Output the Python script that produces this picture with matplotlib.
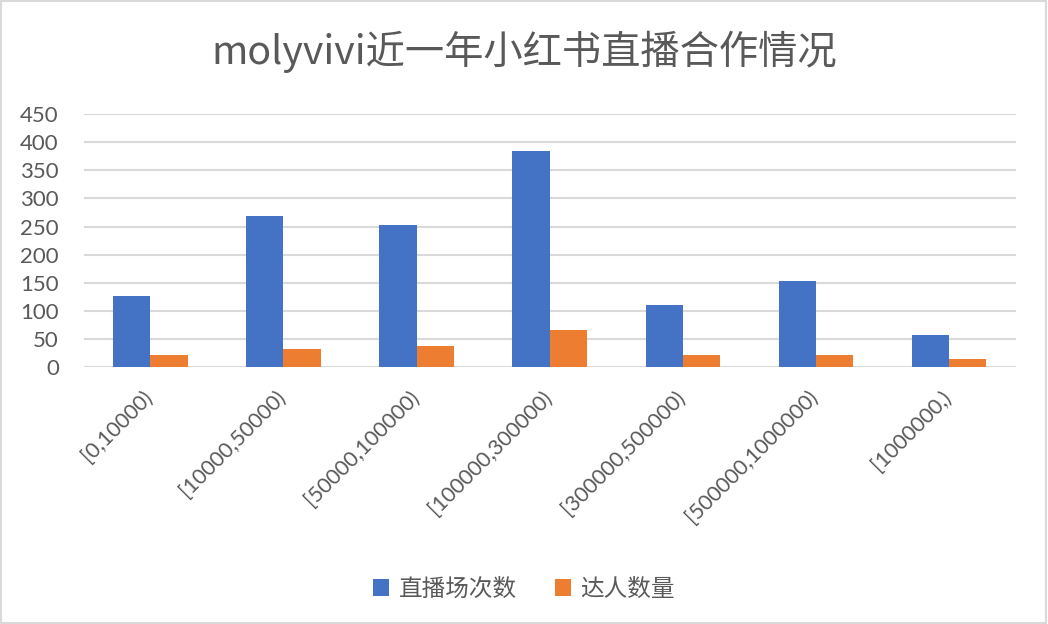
import numpy as np
import matplotlib.pyplot as plt
from matplotlib.patches import Rectangle
from matplotlib.transforms import ScaledTranslation

categories = ["[0,10000)", "[10000,50000)", "[50000,100000)", "[100000,300000)",
              "[300000,500000)", "[500000,1000000)", "[1000000,)"]
live_counts = [127, 268, 252, 384, 111, 153, 57]
talent_counts = [21, 33, 38, 67, 21, 21, 15]
yticks = [0, 50, 100, 150, 200, 250, 300, 350, 400, 450]

blue = "#4472C4"
orange = "#ED7D31"
gray = "#595959"
cjk = ["Noto Sans CJK SC", "DejaVu Sans"]


def main():
    fig = plt.figure(figsize=(10.48, 6.24), dpi=100)
    ax = fig.add_axes([0.080, 0.4114, 0.889, 0.4059])

    x = np.arange(len(categories))
    w = 0.28
    ax.bar(x - w / 2, live_counts, w, color=blue, label="直播场次数", zorder=3)
    ax.bar(x + w / 2, talent_counts, w, color=orange, label="达人数量", zorder=3)

    ax.set_xlim(-0.5, len(categories) - 0.5)
    ax.set_ylim(0, 450)
    ax.set_yticks(yticks)
    ax.yaxis.grid(True, color="#d9d9d9", linewidth=1.5, zorder=0)
    ax.set_axisbelow(True)
    for s in ax.spines.values():
        s.set_visible(False)
    ax.tick_params(axis="both", length=0, colors=gray)
    ax.tick_params(axis="y", pad=18, labelsize=16)
    for lab in ax.get_yticklabels():
        lab.set_family("Lato")

    ax.set_xticks(x)
    ax.set_xticklabels(categories, rotation=45, ha="right", rotation_mode="anchor",
                       family="Lato", fontsize=15.5, color=gray)
    ax.tick_params(axis="x", pad=14)
    shift = ScaledTranslation(-8 / 100, 0, fig.dpi_scale_trans)
    for lab in ax.get_xticklabels():
        lab.set_transform(lab.get_transform() + shift)

    fig.suptitle("molyvivi近一年小红书直播合作情况", x=0.5, y=0.95, fontsize=28.3,
                 color=gray, family=cjk)

    leg = fig.legend(loc="center", bbox_to_anchor=(0.5, 0.056), ncol=2, frameon=False,
                     prop={"family": cjk, "size": 17}, handlelength=0.7, handleheight=0.7,
                     handletextpad=0.4, columnspacing=1.6)
    for t in leg.get_texts():
        t.set_color(gray)

    fig.patches.append(Rectangle((0.001, 0.001), 0.997, 0.997, transform=fig.transFigure,
                                 fill=False, edgecolor="#d9d9d9", linewidth=1.5))

    fig.savefig("out.png", dpi=100)


if __name__ == "__main__":
    main()
